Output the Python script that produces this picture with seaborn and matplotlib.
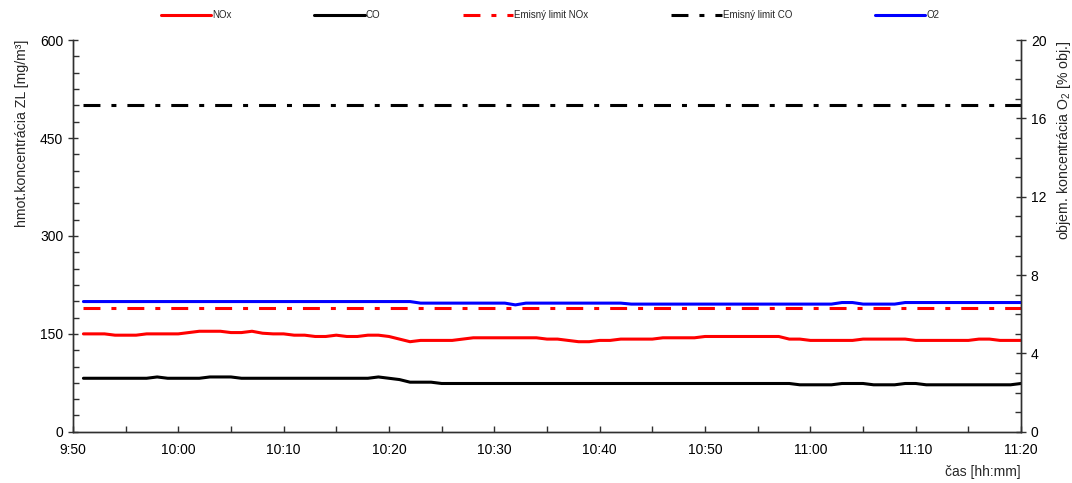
import pandas as pd
import seaborn as sns
import matplotlib.pyplot as plt
import matplotlib.dates as mdates
from matplotlib.ticker import MultipleLocator, FuncFormatter

# measured values, one sample per minute from 9:51 to 11:20
nox = [150, 150, 150, 148, 148, 148, 150, 150, 150, 150,
       152, 154, 154, 154, 152, 152, 154, 151, 150, 150,
       148, 148, 146, 146, 148, 146, 146, 148, 148, 146,
       142, 138, 140, 140, 140, 140, 142, 144, 144, 144,
       144, 144, 144, 144, 142, 142, 140, 138, 138, 140,
       140, 142, 142, 142, 142, 144, 144, 144, 144, 146,
       146, 146, 146, 146, 146, 146, 146, 142, 142, 140,
       140, 140, 140, 140, 142, 142, 142, 142, 142, 140,
       140, 140, 140, 140, 140, 142, 142, 140, 140, 140]
co = [82, 82, 82, 82, 82, 82, 82, 84, 82, 82,
      82, 82, 84, 84, 84, 82, 82, 82, 82, 82,
      82, 82, 82, 82, 82, 82, 82, 82, 84, 82,
      80, 76, 76, 76, 74, 74, 74, 74, 74, 74,
      74, 74, 74, 74, 74, 74, 74, 74, 74, 74,
      74, 74, 74, 74, 74, 74, 74, 74, 74, 74,
      74, 74, 74, 74, 74, 74, 74, 74, 72, 72,
      72, 72, 74, 74, 74, 72, 72, 72, 74, 74,
      72, 72, 72, 72, 72, 72, 72, 72, 72, 74]
o2 = [6.65, 6.65, 6.65, 6.65, 6.65, 6.65, 6.65, 6.65, 6.65, 6.65,
      6.65, 6.65, 6.65, 6.65, 6.65, 6.65, 6.65, 6.65, 6.65, 6.65,
      6.65, 6.65, 6.65, 6.65, 6.65, 6.65, 6.65, 6.65, 6.65, 6.65,
      6.65, 6.65, 6.57, 6.57, 6.57, 6.57, 6.57, 6.57, 6.57, 6.57,
      6.57, 6.48, 6.57, 6.57, 6.57, 6.57, 6.57, 6.57, 6.57, 6.57,
      6.57, 6.57, 6.52, 6.52, 6.52, 6.52, 6.52, 6.52, 6.52, 6.52,
      6.52, 6.52, 6.52, 6.52, 6.52, 6.52, 6.52, 6.52, 6.52, 6.52,
      6.52, 6.52, 6.6, 6.6, 6.52, 6.52, 6.52, 6.52, 6.6, 6.6,
      6.6, 6.6, 6.6, 6.6, 6.6, 6.6, 6.6, 6.6, 6.6, 6.6]
nox_limit = 190
co_limit = 500

time = pd.date_range('2000-01-01 09:51', periods=len(nox), freq='min')
df = pd.DataFrame({'time': time, 'NOx': nox, 'CO': co, 'O2': o2,
                   'nox_lim': [nox_limit] * len(nox),
                   'co_lim': [co_limit] * len(nox)})

sns.set_style('white')
plt.rcParams['font.family'] = ['Liberation Sans', 'DejaVu Sans']
plt.rcParams['mathtext.default'] = 'regular'
plt.rcParams['lines.scale_dashes'] = False

dashdot = (0, (12.2, 7.9, 3.6, 7.9))
lw = 2.2

fig = plt.figure(figsize=(10.72, 4.83), dpi=100)
ax = fig.add_axes([0.068, 0.106, 0.8845, 0.811])
ax2 = ax.twinx()

sns.lineplot(data=df, x='time', y='NOx', ax=ax, color='#ff0000', lw=lw, label='NOx', legend=False)
sns.lineplot(data=df, x='time', y='CO', ax=ax, color='black', lw=lw, label='CO', legend=False)
sns.lineplot(data=df, x='time', y='nox_lim', ax=ax, color='#ff0000', lw=lw, linestyle=dashdot,
             label='Emisný limit NOx', legend=False)
sns.lineplot(data=df, x='time', y='co_lim', ax=ax, color='black', lw=lw, linestyle=dashdot,
             label='Emisný limit CO', legend=False)
sns.lineplot(data=df, x='time', y='O2', ax=ax2, color='#0000ff', lw=lw, label='O2', legend=False)

ax.set_xlim(pd.Timestamp('2000-01-01 09:50'), pd.Timestamp('2000-01-01 11:20'))
ax.set_ylim(0, 600)
ax2.set_ylim(0, 20)

ax.yaxis.set_major_locator(MultipleLocator(150))
ax.yaxis.set_minor_locator(MultipleLocator(25))
ax2.yaxis.set_major_locator(MultipleLocator(4))
ax2.yaxis.set_minor_locator(MultipleLocator(1))
ax.xaxis.set_major_locator(mdates.MinuteLocator(byminute=range(0, 60, 10)))
ax.xaxis.set_minor_locator(mdates.MinuteLocator(byminute=range(0, 60, 5)))
ax.xaxis.set_major_formatter(FuncFormatter(
    lambda v, p: f"{mdates.num2date(v).hour}:{mdates.num2date(v).minute:02d}"))

spine_col = '#303030'
for a in (ax, ax2):
    for s in a.spines.values():
        s.set_color(spine_col)
        s.set_linewidth(1)
    a.spines['top'].set_visible(False)
    a.tick_params(which='major', direction='inout', length=7, width=1, color=spine_col,
                  labelsize=10, labelcolor='black')
    a.tick_params(which='minor', direction='in', length=4, width=1, color=spine_col)
ax.tick_params(axis='x', which='major', direction='in', length=4, pad=8)
ax.tick_params(axis='y', which='both', left=True, right=False)
ax.tick_params(axis='x', which='both', bottom=True)
ax2.tick_params(axis='y', which='both', right=True, left=False)

ax.set_ylabel('hmot.koncentrácia ZL [mg/m³]', fontsize=10.2, labelpad=8, loc='top')
ax2.set_ylabel('objem. koncentrácia O$_2$ [% obj.]', fontsize=10.2, labelpad=6, loc='top')
ax.set_xlabel('čas [hh:mm]', fontsize=10, loc='right', labelpad=6)

h1, l1 = ax.get_legend_handles_labels()
h2, l2 = ax2.get_legend_handles_labels()
fig.legend(h1 + h2, l1 + l2, loc='center', bbox_to_anchor=(0.513, 0.969), ncol=5,
           frameon=False, fontsize=7, handlelength=5.2, handletextpad=0.1,
           columnspacing=8.5)

fig.savefig('out.png', dpi=100)
